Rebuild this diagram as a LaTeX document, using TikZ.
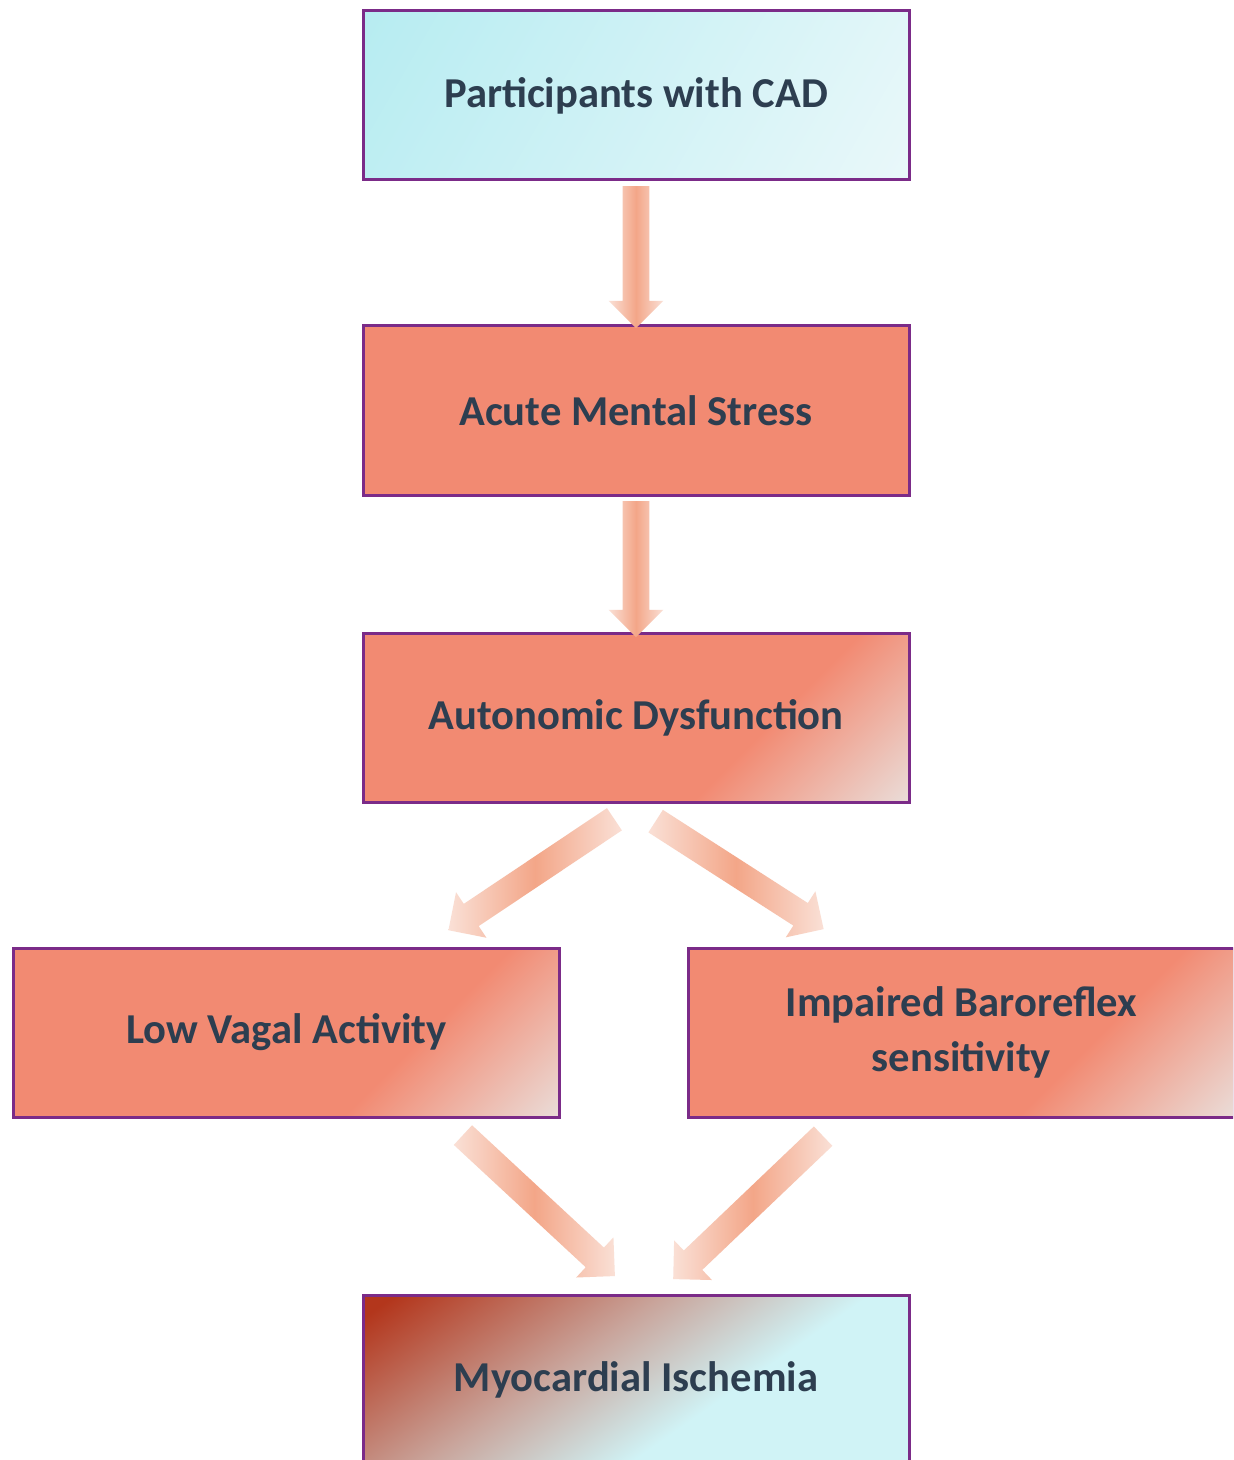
\documentclass[tikz,border=0pt]{standalone}
\usepackage{fontspec}
\setmainfont{Carlito}
\usepackage{tikz}
\usetikzlibrary{positioning, calc, shapes.arrows}
\definecolor{boxborder}{HTML}{7B2B88}
\definecolor{boxtext}{HTML}{2D3E50}
\definecolor{boxsalmon}{HTML}{F28A72}
\definecolor{boxlight}{HTML}{E8EEEE}
\definecolor{cadcyan}{HTML}{B6ECF1}
\definecolor{cadlight}{HTML}{EAF8FA}
\definecolor{ischred}{HTML}{B3361C}
\definecolor{ischmid}{HTML}{C9A59C}
\definecolor{ischcyan}{HTML}{D0F3F6}
\definecolor{arrmid}{HTML}{F3A688}
\definecolor{arrlight}{HTML}{FAE0D6}
\pgfdeclarehorizontalshading{cadfade}{100bp}{color(0bp)=(cadcyan); color(15bp)=(cadcyan); color(85bp)=(cadlight); color(100bp)=(cadlight)}
\pgfdeclarehorizontalshading{boxfade}{100bp}{color(0bp)=(boxsalmon); color(64bp)=(boxsalmon); color(90bp)=(boxlight); color(100bp)=(boxlight)}
\pgfdeclarehorizontalshading{ischfade}{100bp}{color(0bp)=(ischred); color(18bp)=(ischred); color(42bp)=(ischmid); color(60bp)=(ischcyan); color(100bp)=(ischcyan)}
\newcommand{\boxfont}{\fontsize{21.3}{27.5}\selectfont\bfseries}
\newcommand{\flowarrow}[2]{%
  \path let \p1=($(#2)-(#1)$), \n1={veclen(\x1,\y1)} in
    (#1) -- (#2) node[midway, sloped, flowarr, minimum height=\n1] {};}

\begin{document}
\begin{tikzpicture}[x=0.5pt, y=-0.5pt,
  box/.style={draw=boxborder, line width=1.5pt, minimum width=273pt,
    minimum height=84.5pt, inner sep=0pt, align=center, text=boxtext, font=\boxfont},
  fadebox/.style={box, shading=boxfade, shading angle=-45},
  flowarr/.style={single arrow, draw=none, inner xsep=0pt, inner ysep=6.5pt,
    single arrow head extend=7pt, allow upside down,
    left color=arrlight, right color=arrlight, middle color=arrmid}]
  \path[use as bounding box, clip] (0,0) rectangle (1233,1460);
  \fill[white] (0,0) rectangle (1233,1460);
  % boxes
  \node (cad)  [box, shading=cadfade, shading angle=-30] at (636,95.5) {Participants with CAD};
  \node (ams)  [box, fill=boxsalmon, below=71.5pt of cad] {Acute Mental Stress};
  \node (auto) [fadebox, below=67.5pt of ams] {Autonomic Dysfunction};
  \node (vag)  [fadebox] at (286.5,1032.5) {Low Vagal Activity};
  \node (bar)  [fadebox, right=63pt of vag] {Impaired Baroreflex\\sensitivity};
  \node (isch) [box, shading=ischfade, shading angle=-55] at (636,1379.5) {Myocardial Ischemia};
  % arrow ends
  \coordinate (t1) at ($(cad.south)+(0,-2)$);
  \coordinate (h1) at ($(ams.north)+(0,-3)$);
  \coordinate (t2) at ($(ams.south)+(0,-2)$);
  \coordinate (h2) at ($(auto.north)+(0,-1)$);
  \coordinate (t3) at ($(auto.south)+(-16,12)$);
  \coordinate (h3) at ($(vag.north east)+(-107,-20)$);
  \coordinate (t4) at ($(auto.south)+(14,14)$);
  \coordinate (h4) at ($(bar.north west)+(131,-21)$);
  \coordinate (t5) at ($(vag.south east)+(-103,12)$);
  \coordinate (h5) at ($(isch.north)+(-26,-22)$);
  \coordinate (t6) at ($(bar.south west)+(141,13)$);
  \coordinate (h6) at ($(isch.north)+(42,-19)$);
  % arrows
  \flowarrow{t1}{h1}
  \flowarrow{t2}{h2}
  \flowarrow{t3}{h3}
  \flowarrow{t4}{h4}
  \flowarrow{t5}{h5}
  \flowarrow{t6}{h6}
\end{tikzpicture}
\end{document}
